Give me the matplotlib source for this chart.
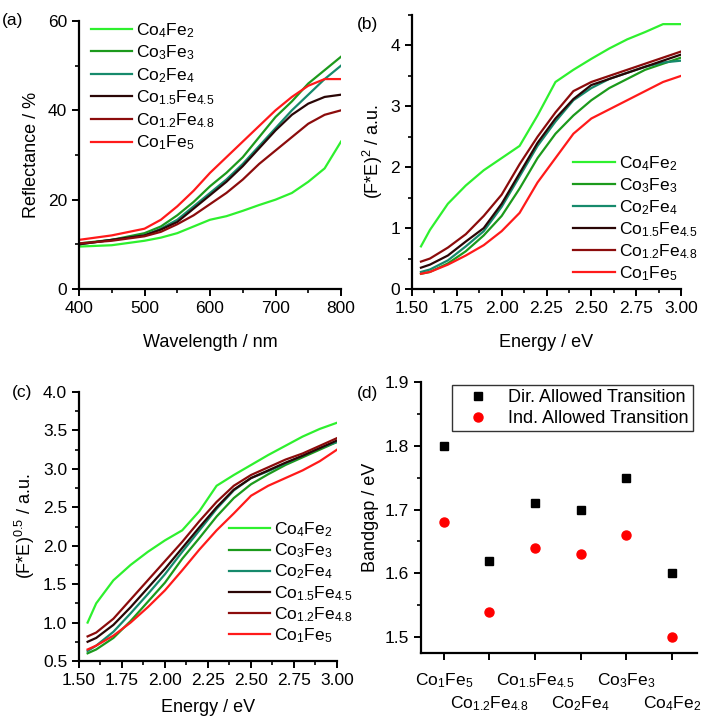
import matplotlib
matplotlib.use("Agg")
import matplotlib.pyplot as plt
from matplotlib.ticker import MultipleLocator

plt.rcParams["font.family"] = ["Liberation Sans", "DejaVu Sans"]
plt.rcParams["mathtext.default"] = "regular"
plt.rcParams["font.size"] = 13

# Samples (legend order) and colours
samples = [r"Co$_4$Fe$_2$", r"Co$_3$Fe$_3$", r"Co$_2$Fe$_4$",
           r"Co$_{1.5}$Fe$_{4.5}$", r"Co$_{1.2}$Fe$_{4.8}$", r"Co$_1$Fe$_5$"]
colors = ["#2ef02e", "#1c9a1c", "#168a6c", "#2a0606", "#8c0c0c", "#ff1a1a"]

# (a) reflectance spectra
wavelength = [400, 450, 500, 525, 550, 575, 600, 625, 650, 675, 700, 725, 750, 775, 800]
reflectance = [
    [9.5, 9.8, 10.8, 11.5, 12.5, 14.0, 15.5, 16.3, 17.5, 18.8, 20.0, 21.5, 24.0, 27.0, 33.0],
    [10.2, 11.0, 12.5, 14.0, 16.5, 19.5, 23.0, 26.0, 29.5, 34.0, 38.5, 42.0, 46.0, 49.0, 52.0],
    [10.0, 11.0, 12.0, 13.5, 15.5, 18.5, 21.5, 24.5, 28.0, 32.0, 36.0, 40.0, 43.5, 47.0, 50.0],
    [10.0, 11.0, 12.0, 13.3, 15.0, 18.0, 21.0, 24.0, 27.5, 31.5, 35.5, 39.0, 41.5, 43.0, 43.5],
    [10.2, 10.8, 11.8, 12.8, 14.5, 16.5, 19.0, 21.5, 24.5, 28.0, 31.0, 34.0, 37.0, 39.0, 40.0],
    [11.0, 12.0, 13.5, 15.5, 18.5, 22.0, 26.0, 29.5, 33.0, 36.5, 40.0, 43.0, 45.5, 47.0, 47.0],
]

# (b), (c) Tauc plots
energy = [1.55, 1.6, 1.7, 1.8, 1.9, 2.0, 2.1, 2.2, 2.3, 2.4, 2.5, 2.6, 2.7, 2.8, 2.9, 3.0]
tauc_direct = [
    [0.70, 0.97, 1.40, 1.70, 1.95, 2.15, 2.35, 2.85, 3.40, 3.60, 3.78, 3.95, 4.10, 4.22, 4.35, 4.35],
    [0.25, 0.28, 0.42, 0.62, 0.88, 1.20, 1.65, 2.15, 2.55, 2.85, 3.10, 3.30, 3.45, 3.60, 3.70, 3.80],
    [0.28, 0.32, 0.47, 0.70, 0.95, 1.35, 1.85, 2.35, 2.75, 3.10, 3.30, 3.45, 3.55, 3.65, 3.72, 3.75],
    [0.35, 0.40, 0.55, 0.78, 1.00, 1.40, 1.90, 2.40, 2.80, 3.12, 3.35, 3.45, 3.55, 3.65, 3.75, 3.85],
    [0.45, 0.50, 0.68, 0.90, 1.20, 1.55, 2.05, 2.50, 2.90, 3.25, 3.40, 3.50, 3.60, 3.70, 3.80, 3.90],
    [0.25, 0.28, 0.40, 0.55, 0.72, 0.95, 1.25, 1.75, 2.15, 2.55, 2.80, 2.95, 3.10, 3.25, 3.40, 3.50],
]
tauc_indirect = [
    [1.00, 1.25, 1.55, 1.75, 1.92, 2.07, 2.20, 2.45, 2.78, 2.92, 3.05, 3.18, 3.30, 3.42, 3.52, 3.60],
    [0.60, 0.65, 0.80, 1.02, 1.27, 1.52, 1.83, 2.10, 2.38, 2.62, 2.80, 2.93, 3.05, 3.15, 3.25, 3.35],
    [0.63, 0.70, 0.88, 1.12, 1.37, 1.63, 1.92, 2.20, 2.48, 2.72, 2.88, 2.97, 3.07, 3.17, 3.27, 3.35],
    [0.75, 0.80, 0.97, 1.20, 1.45, 1.70, 1.97, 2.24, 2.50, 2.73, 2.88, 2.98, 3.08, 3.17, 3.27, 3.37],
    [0.82, 0.87, 1.05, 1.30, 1.55, 1.80, 2.05, 2.32, 2.57, 2.78, 2.92, 3.02, 3.12, 3.20, 3.30, 3.40],
    [0.65, 0.70, 0.83, 1.00, 1.20, 1.42, 1.68, 1.95, 2.20, 2.42, 2.65, 2.78, 2.88, 2.98, 3.10, 3.25],
]

# (d) bandgaps
gap_labels = [r"Co$_1$Fe$_5$", r"Co$_{1.2}$Fe$_{4.8}$", r"Co$_{1.5}$Fe$_{4.5}$",
              r"Co$_2$Fe$_4$", r"Co$_3$Fe$_3$", r"Co$_4$Fe$_2$"]
gap_direct = [1.80, 1.62, 1.71, 1.70, 1.75, 1.60]
gap_indirect = [1.68, 1.54, 1.64, 1.63, 1.66, 1.50]

fig = plt.figure(figsize=(7.03, 7.17), dpi=100)
W, H = 703, 717


def make_ax(x0, y0, x1, y1):
    ax = fig.add_axes([x0 / W, 1 - y1 / H, (x1 - x0) / W, (y1 - y0) / H])
    for s in ("top", "right"):
        ax.spines[s].set_visible(False)
    for s in ("left", "bottom"):
        ax.spines[s].set_linewidth(1.6)
    ax.tick_params(which="major", direction="out", length=5, width=1.4, labelsize=12.5)
    ax.tick_params(which="minor", direction="out", length=3, width=1.2)
    return ax


def add_legend(ax, loc, anchor, spacing):
    ax.legend(loc=loc, bbox_to_anchor=anchor, frameon=False, fontsize=12.5,
              handlelength=2.4, handletextpad=0.2, labelspacing=spacing,
              borderaxespad=0, borderpad=0)


# (a)
ax = make_ax(79, 21, 341, 289)
for vals, lab, c in zip(reflectance, samples, colors):
    ax.plot(wavelength, vals, color=c, lw=1.6, label=lab)
ax.set_xlim(400, 800)
ax.set_ylim(0, 60)
ax.xaxis.set_major_locator(MultipleLocator(100))
ax.xaxis.set_minor_locator(MultipleLocator(50))
ax.yaxis.set_major_locator(MultipleLocator(20))
ax.yaxis.set_minor_locator(MultipleLocator(10))
ax.set_xlabel("Wavelength / nm", labelpad=13)
ax.set_ylabel("Reflectance / %", labelpad=6)
add_legend(ax, "upper left", (0.045, 1.0), 0.22)
fig.text(2 / W, 1 - 21 / H, "(a)", fontsize=12.5, va="center")

# (b)
ax = make_ax(412, 15, 681, 289)
for vals, lab, c in zip(tauc_direct, samples, colors):
    ax.plot(energy, vals, color=c, lw=1.6, label=lab)
ax.set_xlim(1.5, 3.0)
ax.set_ylim(0, 4.5)
ax.xaxis.set_major_locator(MultipleLocator(0.25))
ax.xaxis.set_minor_locator(MultipleLocator(0.125))
ax.yaxis.set_major_locator(MultipleLocator(1))
ax.yaxis.set_minor_locator(MultipleLocator(0.5))
ax.xaxis.set_major_formatter(plt.FormatStrFormatter("%.2f"))
ax.set_xlabel("Energy / eV", labelpad=13)
ax.set_ylabel(r"(F*E)$^2$ / a.u.")
add_legend(ax, "lower left", (0.6, 0.022), 0.19)
fig.text(357 / W, 1 - 25 / H, "(b)", fontsize=12.5, va="center")

# (c)
ax = make_ax(79, 392, 337, 661)
for vals, lab, c in zip(tauc_indirect, samples, colors):
    ax.plot(energy, vals, color=c, lw=1.6, label=lab)
ax.set_xlim(1.5, 3.0)
ax.set_ylim(0.5, 4.0)
ax.xaxis.set_major_locator(MultipleLocator(0.25))
ax.xaxis.set_minor_locator(MultipleLocator(0.125))
ax.yaxis.set_major_locator(MultipleLocator(0.5))
ax.yaxis.set_minor_locator(MultipleLocator(0.25))
ax.xaxis.set_major_formatter(plt.FormatStrFormatter("%.2f"))
ax.yaxis.set_major_formatter(plt.FormatStrFormatter("%.1f"))
ax.set_xlabel("Energy / eV", labelpad=8)
ax.set_ylabel(r"(F*E)$^{0.5}$ / a.u.")
add_legend(ax, "lower left", (0.58, 0.06), 0.14)
fig.text(12 / W, 1 - 392 / H, "(c)", fontsize=12.5, va="center")

# (d)
ax = make_ax(421, 382, 697, 653)
pos = list(range(1, len(gap_labels) + 1))
ax.plot(pos, gap_direct, "s", color="black", ms=5.5, ls="none",
        label="Dir. Allowed Transition")
ax.plot(pos, gap_indirect, "o", color="red", ms=6.5, ls="none",
        label="Ind. Allowed Transition")
ax.set_xlim(0.5, 6.55)
ax.set_ylim(1.475, 1.9)
# staggered category labels: odd ones on major ticks, even ones on minor ticks
ax.set_xticks(pos[0::2])
ax.set_xticklabels(gap_labels[0::2])
ax.set_xticks(pos[1::2], minor=True)
ax.set_xticklabels(gap_labels[1::2], minor=True)
ax.tick_params(axis="x", which="major", pad=8)
ax.tick_params(axis="x", which="minor", length=5, width=1.4, pad=25, labelsize=12.5)
ax.yaxis.set_major_locator(MultipleLocator(0.1))
ax.yaxis.set_minor_locator(MultipleLocator(0.05))
ax.yaxis.set_major_formatter(plt.FormatStrFormatter("%.1f"))
ax.set_ylabel("Bandgap / eV")
leg = ax.legend(loc="upper right", bbox_to_anchor=(0.985, 0.99), fontsize=13,
                frameon=True, fancybox=False, handlelength=2.4, handletextpad=0.45,
                labelspacing=0.2, borderpad=0.25, borderaxespad=0)
leg.get_frame().set_edgecolor("black")
leg.get_frame().set_linewidth(1.0)
fig.text(357 / W, 1 - 393 / H, "(d)", fontsize=12.5, va="center")

fig.savefig("out.png", dpi=100)
